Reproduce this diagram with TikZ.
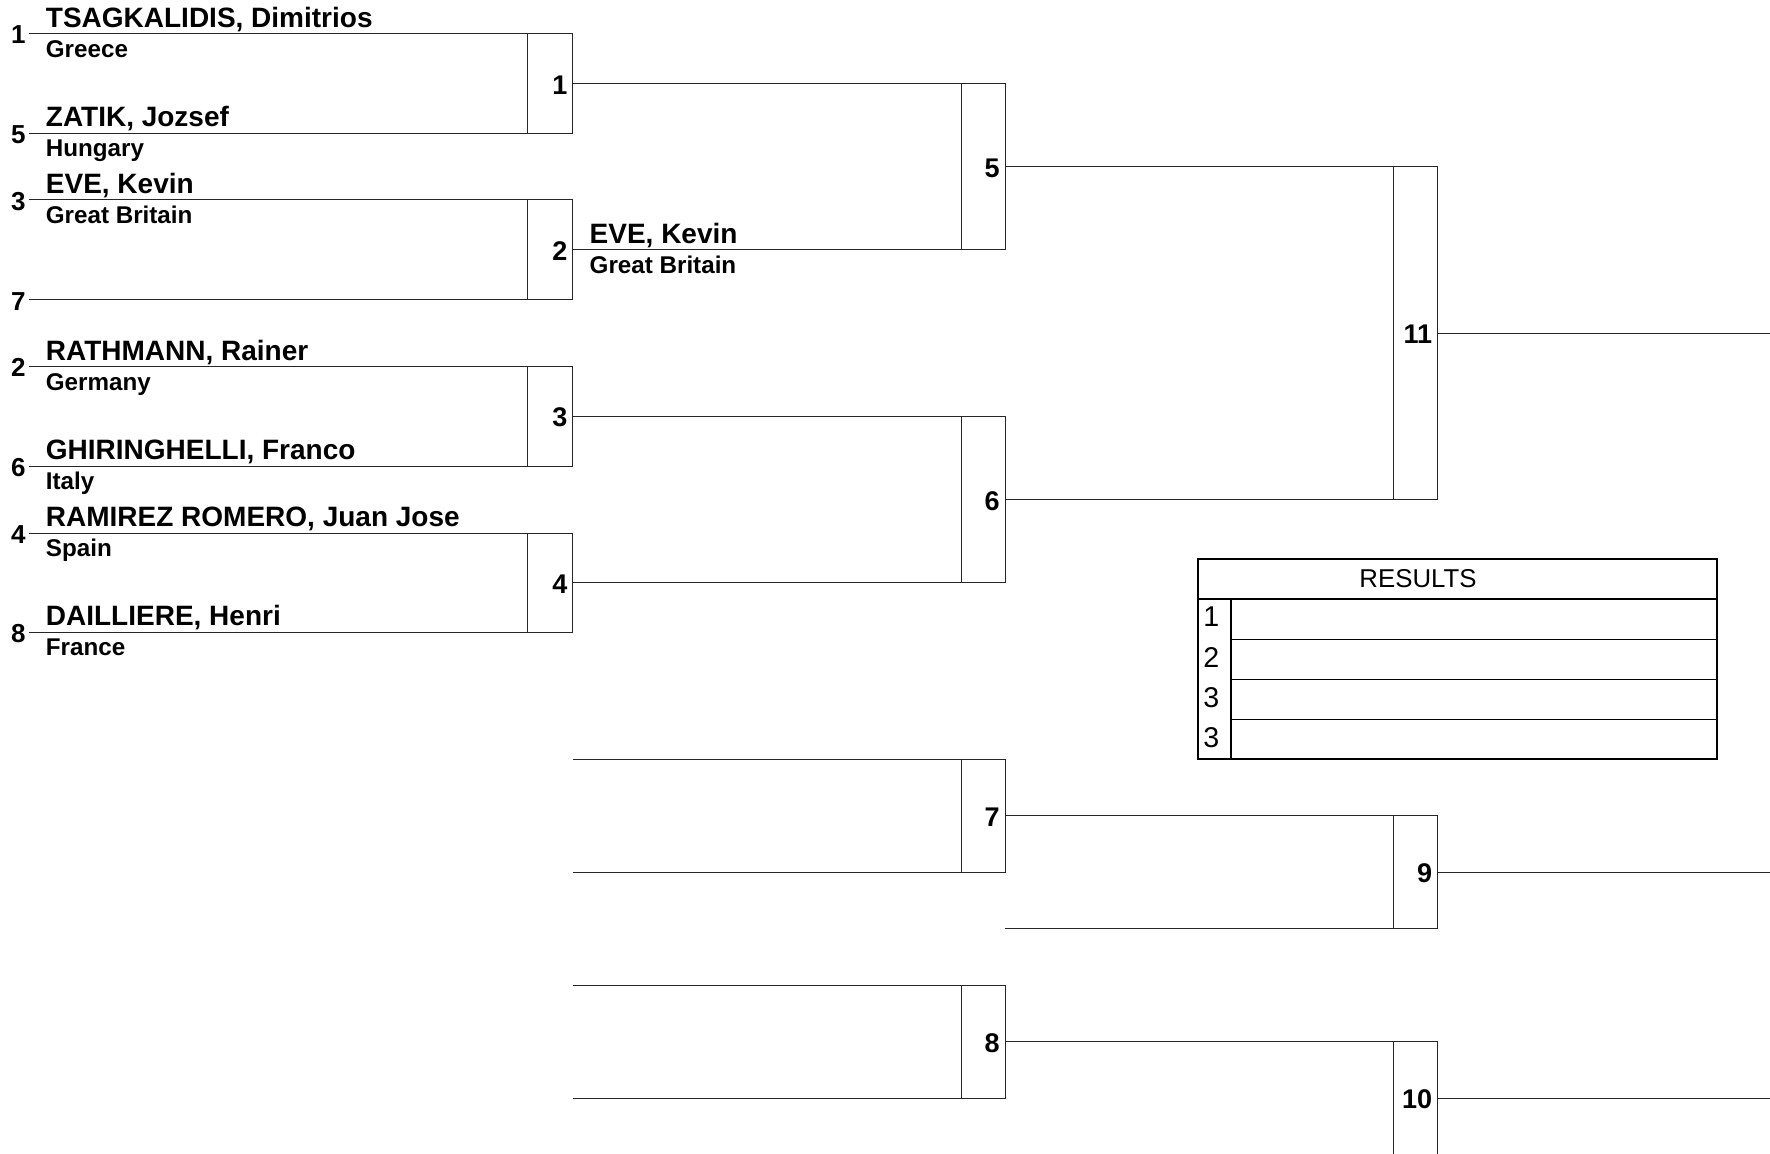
\documentclass[tikz,border=0pt]{standalone}
\usepackage{fontspec}
\setmainfont{Liberation Sans}
\usepackage{tikz}
\usetikzlibrary{positioning,calc}
\tikzset{
  bracketline/.style={draw=black!85,line width=0.5pt},
  seedno/.style={font=\fontsize{13}{14}\selectfont\bfseries,anchor=east,inner sep=0pt},
  athlete/.style={font=\fontsize{14}{16}\selectfont\bfseries,anchor=base west,inner sep=0pt},
  nation/.style={font=\fontsize{12.1}{14}\selectfont\bfseries,anchor=base west,inner sep=0pt},
  matchno/.style={font=\fontsize{13.5}{15}\selectfont\bfseries,anchor=east,inner sep=0pt},
  resultframe/.style={draw=black,line width=1pt},
  resultrule/.style={draw=black,line width=0.6pt},
  resulttext/.style={font=\fontsize{12.9}{15}\selectfont,inner sep=0pt},
  placeno/.style={font=\fontsize{14.3}{16}\selectfont,anchor=west,inner sep=0pt}
}

\begin{document}
\begin{tikzpicture}[x=0.5pt,y=-0.5pt]
  \useasboundingbox (0,0) rectangle (1770,1154);
  % columns of the draw
  \coordinate (c1in) at (527.5,0);
  \coordinate (c1out) at (572.8,0);
  \coordinate (c2in) at (961,0);
  \coordinate (c2out) at (1005,0);
  \coordinate (c3in) at (1393.5,0);
  \coordinate (c3out) at (1437.5,0);
  \coordinate (cend) at (1770,0);

  % entry lines of the first round, with seeds
  \foreach \k/\y/\s in {1/33.7/1,2/133.5/5,3/200/3,4/300/7,5/366.7/2,6/466.3/6,7/533/4,8/632.3/8} {
    \coordinate (l\k) at (29,\y);
    \node[seedno] (seed\k) at ([xshift=-1.5pt,yshift=-0.6pt]l\k) {\s};
  }
  \foreach \k/\who/\from in {1/{TSAGKALIDIS, Dimitrios}/Greece,2/{ZATIK, Jozsef}/Hungary,
      3/{EVE, Kevin}/Great Britain,5/{RATHMANN, Rainer}/Germany,6/{GHIRINGHELLI, Franco}/Italy,
      7/{RAMIREZ ROMERO, Juan Jose}/Spain,8/{DAILLIERE, Henri}/France} {
    \node[athlete] (name\k) at ($(l\k)+(16.5,-6.5)$) {\who};
    \node[nation] (nat\k) at ($(l\k)+(16.5,23.5)$) {\from};
  }

  % loose entries of the lower part
  \coordinate (u7t) at (572.8,759);
  \coordinate (u7b) at (572.8,872.3);
  \coordinate (u8t) at (572.8,985.3);
  \coordinate (u8b) at (572.8,1098.3);
  \coordinate (u9b) at (1005,928.7);
  \coordinate (u10b) at (1005,1155);

  % brackets
  \foreach \m/\a/\b/\ci/\co in {1/l1/l2/c1in/c1out,2/l3/l4/c1in/c1out,3/l5/l6/c1in/c1out,
      4/l7/l8/c1in/c1out,5/o1/o2/c2in/c2out,6/o3/o4/c2in/c2out,11/o5/o6/c3in/c3out,
      7/u7t/u7b/c2in/c2out,8/u8t/u8b/c2in/c2out,9/o7/u9b/c3in/c3out,10/o8/u10b/c3in/c3out} {
    \draw[bracketline] (\a) -- (\a -| \co) -- (\b -| \co) -- (\b);
    \draw[bracketline] (\a -| \ci) -- (\b -| \ci);
    \coordinate (o\m) at ($(\a -| \co)!0.5!(\b -| \co)$);
    \node[matchno] (m\m) at ([xshift=-2.5pt,yshift=-0.6pt]o\m) {\m};
  }
  \foreach \m in {9,10,11}
    \draw[bracketline] (o\m) -- (o\m -| cend);

  % winner of match 2
  \node[athlete] (win2) at ($(o2)+(16.5,-6)$) {EVE, Kevin};
  \node[nation] (winnat2) at ($(o2)+(16.5,23.5)$) {Great Britain};

  % results
  \draw[resultframe] (1197.5,559) rectangle (1716.6,758.5);
  \draw[resultframe] (1197.5,598.5) -- (1716.6,598.5);
  \draw[resultrule] (1231,598.5) -- (1231,758.5);
  \foreach \y in {639.2,679.3,719.3}
    \draw[resultrule] (1231,\y) -- (1716.6,\y);
  \node[resulttext] (restitle) at (1418,579) {RESULTS};
  \foreach \r/\p/\y in {1/1/617,2/2/657.5,3/3/697.5,4/3/737.5}
    \node[placeno] (place\r) at (1203,\y) {\p};
\end{tikzpicture}
\end{document}
